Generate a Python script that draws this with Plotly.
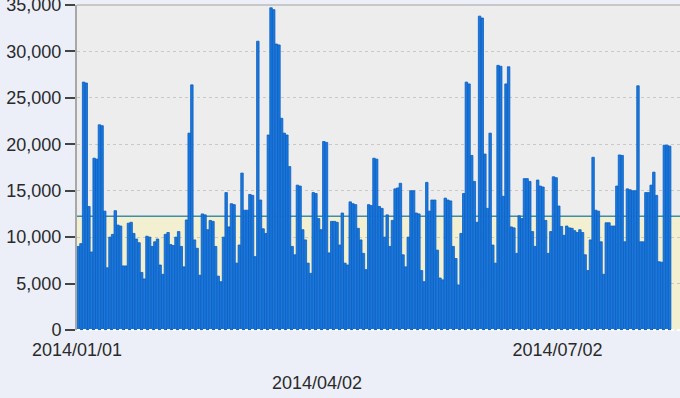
import pandas as pd
import plotly.graph_objects as go

start_date = "2014-01-01"
values = [
    9000, 9300, 26700, 26600, 13300, 8400, 18500, 18400, 22100, 22000,
    12800, 6700, 10000, 10300, 12850, 11300, 11200, 6900, 6900, 11500,
    11600, 10400, 9800, 9400, 6200, 5500, 10100, 10000, 9000, 9500,
    9800, 7000, 6000, 10300, 10500, 9200, 9100, 10000, 10600, 9000,
    6800, 11850, 21200, 26400, 9700, 8800, 5900, 12500, 12400, 10800,
    11800, 11700, 9000, 5800, 5200, 10000, 14800, 11100, 13600, 13500,
    7200, 9150, 16900, 12900, 12900, 14600, 14500, 7900, 31100, 14000,
    10900, 10400, 21000, 34700, 34500, 30800, 30700, 22800, 21200, 21000,
    17600, 9000, 8100, 15600, 15500, 10800, 9700, 7200, 6100, 14800,
    14700, 12000, 10800, 20300, 20200, 8300, 11700, 11700, 11600, 9150,
    12600, 7200, 7000, 13800, 13600, 13500, 10950, 9700, 8250, 6500,
    13500, 13400, 18500, 18400, 13300, 13100, 10000, 12400, 9000, 11800,
    15200, 15300, 15800, 8100, 6800, 10000, 15000, 15000, 12600, 12500,
    6400, 5200, 15900, 12800, 14000, 14000, 8600, 5600, 5400, 14200,
    14000, 13900, 9000, 7700, 4850, 10400, 14700, 26700, 26500, 18800,
    16000, 11600, 33800, 33600, 18950, 13100, 21200, 9150, 7200, 28500,
    28400, 14400, 26500, 28350, 11100, 11000, 8250, 12300, 12000, 16300,
    16300, 16000, 10600, 9000, 16150, 15500, 15400, 11800, 8250, 10600,
    16500, 16400, 13350, 11150, 10200, 11200, 11000, 10950, 10700, 10500,
    10800, 10500, 8100, 6400, 9700, 18600, 12900, 12800, 9500, 6000,
    11550, 11550, 11200, 11200, 15500, 18850, 18800, 9500, 15200, 15100,
    15000, 15000, 26300, 9500, 9500, 14800, 14800, 15600, 17000, 14500,
    7350, 7300, 19900, 19900, 19800,
]
dates = pd.date_range(start_date, periods=len(values), freq="D")

average_level = 12250
y_ticks = [0, 5000, 10000, 15000, 20000, 25000, 30000, 35000]
x_tick_dates = ["2014-01-01", "2014-07-02"]
x_tick_labels = ["2014/01/01", "2014/07/02"]
x_low_tick_date = "2014-04-02"
x_low_tick_label = "2014/04/02"
x_range = ["2014-01-01 00:00", "2014-08-17 10:00"]

FONT = "Liberation Sans, Arial, sans-serif"

fig = go.Figure()
fig.add_trace(go.Bar(
    x=dates,
    y=values,
    xperiod=86400000,
    xperiodalignment="middle",
    marker=dict(color="#1a78dc", line=dict(color="#0b5ec2", width=0.8)),
    hoverinfo="x+y",
))

fig.update_layout(
    width=680,
    height=398,
    margin=dict(l=77, r=0, t=5, b=68, autoexpand=False),
    paper_bgcolor="#eceff8",
    plot_bgcolor="#ededed",
    bargap=0.06,
    showlegend=False,
    font=dict(family=FONT, size=18, color="#2a2a2a"),
    xaxis=dict(
        type="date",
        range=x_range,
        tickvals=x_tick_dates,
        ticktext=x_tick_labels,
        ticks="",
        showgrid=False,
        showline=False,
        zeroline=False,
        automargin=False,
        ticklabelstandoff=7,
        tickfont=dict(family=FONT, size=18, color="#2a2a2a"),
    ),
    yaxis=dict(
        range=[0, 35000],
        tickvals=y_ticks,
        tickformat=",",
        ticks="outside",
        ticklen=10,
        tickwidth=2,
        tickcolor="#444444",
        showline=True,
        linecolor="#a8a8a8",
        linewidth=2,
        showgrid=True,
        gridcolor="#c9c9c9",
        griddash="dot",
        gridwidth=1,
        zeroline=False,
        automargin=False,
        ticklabeloverflow="allow",
        tickfont=dict(family=FONT, size=18, color="#2a2a2a"),
    ),
    shapes=[
        dict(type="rect", xref="paper", yref="y", x0=0, x1=1, y0=0, y1=average_level,
             fillcolor="#f2f0d1", line=dict(width=0), layer="below"),
        dict(type="line", xref="paper", yref="y", x0=0, x1=1, y0=average_level, y1=average_level,
             line=dict(color="#3f8da6", width=1.5), layer="below"),
        dict(type="line", xref="paper", yref="paper", x0=0, x1=1, y0=1, y1=1,
             line=dict(color="#c8c8c8", width=2), layer="above"),
        dict(type="line", xref="paper", yref="paper", x0=0, x1=1, y0=0, y1=0,
             line=dict(color="#ffffff", width=2, dash="dot"), layer="above"),
    ],
    annotations=[
        dict(x=x_low_tick_date, y=0, xref="x", yref="paper", text=x_low_tick_label,
             showarrow=False, yshift=-53, yanchor="middle",
             font=dict(family=FONT, size=18, color="#2a2a2a")),
    ],
)

fig.write_html("out.html")
